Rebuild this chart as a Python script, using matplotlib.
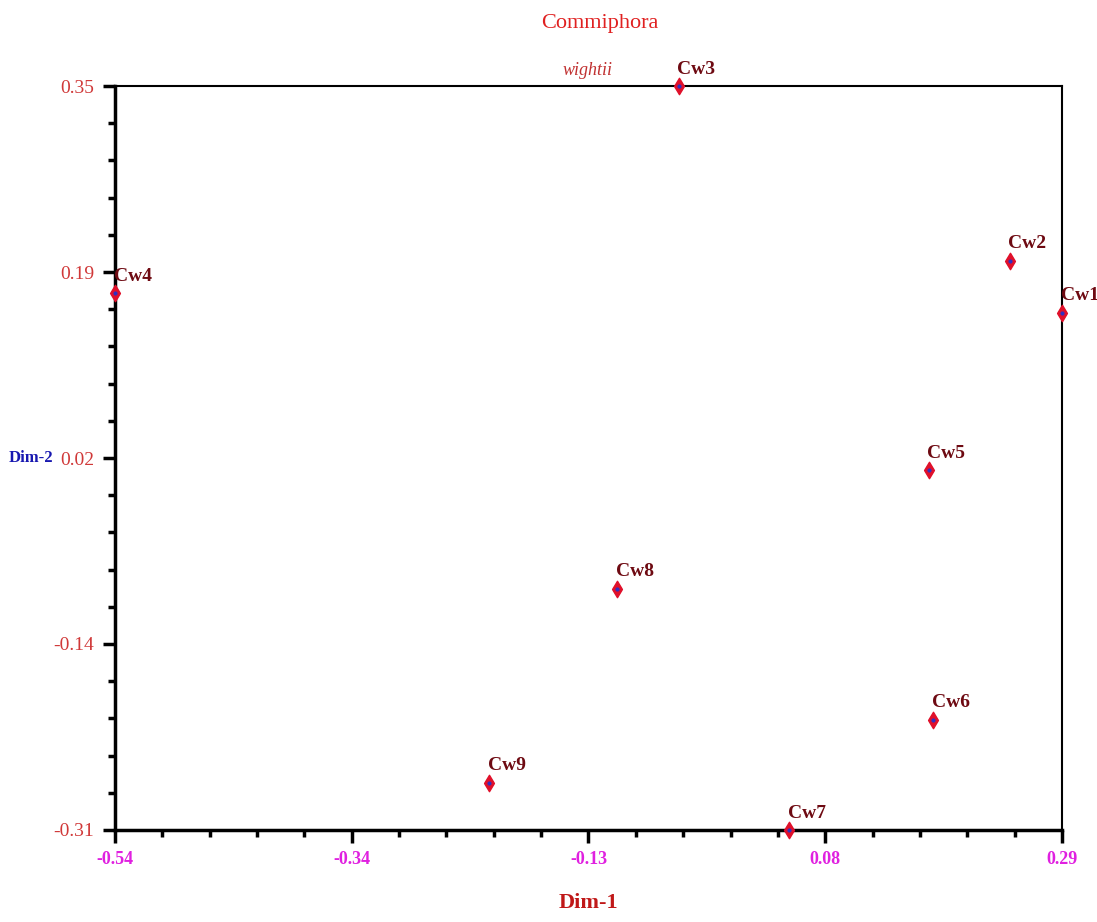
import matplotlib.pyplot as plt
from matplotlib.ticker import AutoMinorLocator

names = ['Cw1', 'Cw2', 'Cw3', 'Cw4', 'Cw5', 'Cw6', 'Cw7', 'Cw8', 'Cw9']
dim1 = [0.290, 0.244, -0.046, -0.540, 0.173, 0.177, 0.051, -0.100, -0.212]
dim2 = [0.149, 0.195, 0.350, 0.166, 0.009, -0.212, -0.310, -0.096, -0.268]

xticks = [-0.54, -0.3325, -0.125, 0.0825, 0.29]
xlabels = ['-0.54', '-0.34', '-0.13', '0.08', '0.29']
yticks = [0.35, 0.185, 0.02, -0.145, -0.31]
ylabels = ['0.35', '0.19', '0.02', '-0.14', '-0.31']

plt.rcParams['font.family'] = ['Liberation Serif', 'DejaVu Serif']

fig = plt.figure(figsize=(10.97, 9.22), dpi=100)
ax = fig.add_axes([0.1048, 0.0998, 0.8633, 0.8069])

ax.scatter(dim1, dim2, marker='d', s=70, color='#e0102a', zorder=3, clip_on=False)
ax.scatter(dim1, dim2, marker='o', s=4, color='#3030c0', zorder=4, clip_on=False)
for n, x, y in zip(names, dim1, dim2):
    ax.annotate(n, (x, y), xytext=(-1, 6), textcoords='offset points',
                ha='left', va='bottom', fontsize=14, fontweight='bold',
                color='#6e0a12', annotation_clip=False)

ax.set_xlim(-0.54, 0.29)
ax.set_ylim(-0.31, 0.35)
ax.set_xticks(xticks)
ax.set_xticklabels(xlabels, color='#e020e0', fontsize=13, fontweight='bold')
ax.set_yticks(yticks)
ax.set_yticklabels(ylabels, color='#d03838', fontsize=14)
ax.xaxis.set_minor_locator(AutoMinorLocator(5))
ax.yaxis.set_minor_locator(AutoMinorLocator(5))
ax.tick_params(which='major', direction='out', length=9, width=2.5, pad=6)
ax.tick_params(which='minor', direction='out', length=5, width=2.5)

for side in ['left', 'bottom']:
    ax.spines[side].set_linewidth(2.5)
for side in ['top', 'right']:
    ax.spines[side].set_linewidth(1.5)

ax.set_xlabel('Dim-1', fontsize=16, fontweight='bold', color='#c01818', labelpad=18)
fig.text(0.049, 0.503, 'Dim-2', ha='right', va='center', fontsize=12,
         fontweight='bold', color='#1818b0')

fig.text(0.547, 0.975, 'Commiphora', ha='center', va='center', fontsize=16, color='#e02020')
fig.text(0.536, 0.924, 'wightii', ha='center', va='center', fontsize=13,
         style='italic', color='#c03030')

plt.savefig('out.png', dpi=100)
